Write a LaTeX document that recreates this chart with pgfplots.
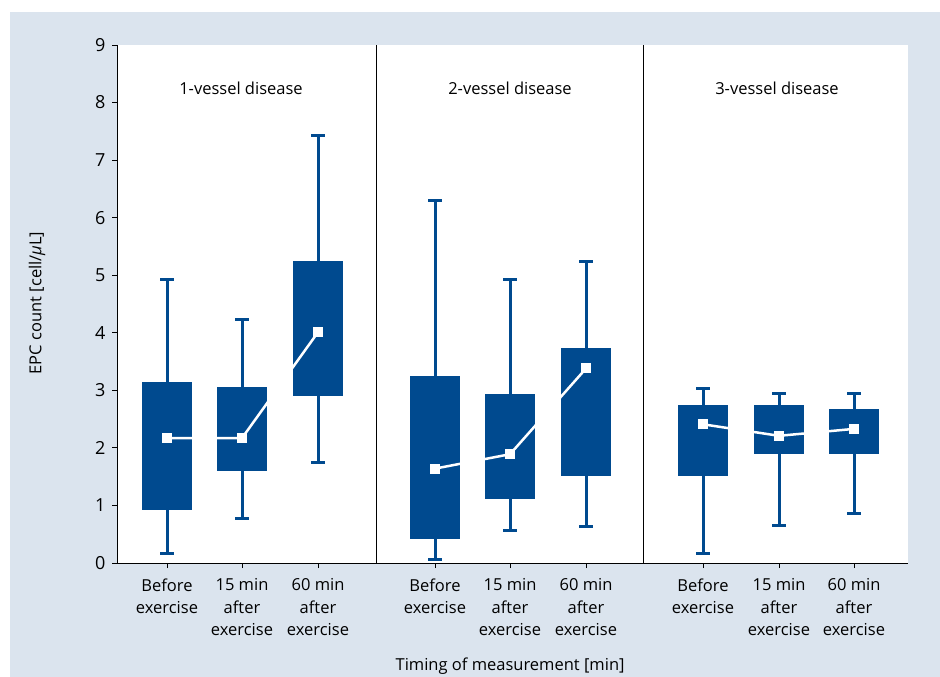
\documentclass[border=0pt]{standalone}
\usepackage{fontspec}
\setmainfont{Open Sans}
\usepackage{pgfplots}
\pgfplotsset{compat=1.18}
\usepgfplotslibrary{statistics}
\definecolor{bg}{RGB}{219,228,238}
\definecolor{boxblue}{RGB}{0,74,143}
\pgfplotsset{
  mybox/.style={
    boxblue, line width=3pt,
    boxplot/draw direction=y,
    boxplot/every box/.style={draw=none, fill=boxblue},
    boxplot/every whisker/.style={draw=boxblue, line width=3pt},
    boxplot/draw/median/.code={},
    boxplot/box extend=0.50,
    boxplot/whisker extend=0.14,
  }
}
\begin{document}
\begin{tikzpicture}
\path[use as bounding box] (0pt,0pt) rectangle (940pt,-677pt);
\fill[bg] (10pt,-12pt) rectangle (940pt,-677pt);
\begin{axis}[
  at={(117pt,-563pt)}, anchor=south west,
  scale only axis, width=791pt, height=518pt,
  xmin=1.17, xmax=9.08, ymin=0, ymax=9,
  axis x line*=bottom, axis y line*=left,
  axis line style={line width=1pt, black},
  axis background/.style={fill=white},
  tick align=outside, major tick length=5pt,
  tick style={line width=1pt, black},
  ytick={0,1,...,9},
  xtick={1.67,2.42,3.18,4.35,5.10,5.86,7.03,7.79,8.54},
  xticklabels={{Before\\exercise},{15 min\\after\\exercise},{60 min\\after\\exercise},
               {Before\\exercise},{15 min\\after\\exercise},{60 min\\after\\exercise},
               {Before\\exercise},{15 min\\after\\exercise},{60 min\\after\\exercise}},
  xticklabel style={font=\fontsize{16.5}{22.5}\selectfont, align=center, yshift=-7pt},
  yticklabel style={font=\fontsize{18}{20}\selectfont, xshift=-3pt},
  /pgf/number format/assume math mode=true,
  xlabel={Timing of measurement [min]},
  ylabel={EPC count [cell/\textit{μ}L]},
  xlabel style={font=\fontsize{16.5}{20}\selectfont, at={(axis description cs:0.497,-0.199)}, anchor=center},
  ylabel style={font=\fontsize{16.5}{20}\selectfont, at={(axis description cs:-0.1010,0.502)}, anchor=center},
  clip=false,
]
% group 1
\addplot[mybox, boxplot prepared={draw position=1.67, lower whisker=0.17, lower quartile=0.92, median=2.17, upper quartile=3.15, upper whisker=4.93}] coordinates {};
\addplot[mybox, boxplot prepared={draw position=2.42, lower whisker=0.77, lower quartile=1.60, median=2.17, upper quartile=3.05, upper whisker=4.23}] coordinates {};
\addplot[mybox, boxplot prepared={draw position=3.18, lower whisker=1.74, lower quartile=2.91, median=4.01, upper quartile=5.25, upper whisker=7.42}] coordinates {};
% group 2
\addplot[mybox, boxplot prepared={draw position=4.35, lower whisker=0.06, lower quartile=0.42, median=1.64, upper quartile=3.25, upper whisker=6.30}] coordinates {};
\addplot[mybox, boxplot prepared={draw position=5.10, lower whisker=0.56, lower quartile=1.11, median=1.89, upper quartile=2.94, upper whisker=4.92}] coordinates {};
\addplot[mybox, boxplot prepared={draw position=5.86, lower whisker=0.64, lower quartile=1.51, median=3.38, upper quartile=3.73, upper whisker=5.24}] coordinates {};
% group 3
\addplot[mybox, boxplot prepared={draw position=7.03, lower whisker=0.16, lower quartile=1.51, median=2.41, upper quartile=2.74, upper whisker=3.03}] coordinates {};
\addplot[mybox, boxplot prepared={draw position=7.79, lower whisker=0.66, lower quartile=1.90, median=2.21, upper quartile=2.74, upper whisker=2.95}] coordinates {};
\addplot[mybox, boxplot prepared={draw position=8.54, lower whisker=0.86, lower quartile=1.90, median=2.33, upper quartile=2.67, upper whisker=2.95}] coordinates {};
% medians
\addplot[white, line width=2.5pt, mark=square*, mark size=4.5pt, mark options={fill=white, draw=white, line width=0pt}] coordinates {(1.67,2.17)(2.42,2.17)(3.18,4.01)};
\addplot[white, line width=2.5pt, mark=square*, mark size=4.5pt, mark options={fill=white, draw=white, line width=0pt}] coordinates {(4.35,1.64)(5.10,1.89)(5.86,3.38)};
\addplot[white, line width=2.5pt, mark=square*, mark size=4.5pt, mark options={fill=white, draw=white, line width=0pt}] coordinates {(7.03,2.41)(7.79,2.21)(8.54,2.33)};
% dividers
\addplot[black, line width=1pt] coordinates {(3.76,0)(3.76,9)};
\addplot[black, line width=1pt] coordinates {(6.43,0)(6.43,9)};
\node[font=\fontsize{16.5}{20}\selectfont] at (axis cs:2.41,8.25) {1-vessel disease};
\node[font=\fontsize{16.5}{20}\selectfont] at (axis cs:5.10,8.25) {2-vessel disease};
\node[font=\fontsize{16.5}{20}\selectfont] at (axis cs:7.77,8.25) {3-vessel disease};
\end{axis}
\end{tikzpicture}
\end{document}
